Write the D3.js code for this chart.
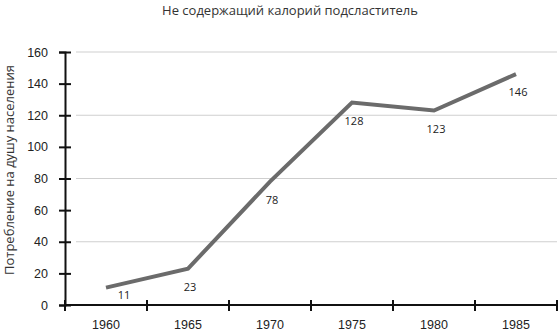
<!DOCTYPE html>
<html lang="ru">
<head>
<meta charset="UTF-8">
<title>Не содержащий калорий подсластитель</title>
<style>
  body { margin: 0; background: #fff; }
  svg { display: block; font-family: "Open Sans", sans-serif; }
</style>
</head>
<body>
<div id="chart"></div>
<script src="https://d3js.org/d3.v7.min.js"></script>
<script>
// data
const years = ["1960", "1965", "1970", "1975", "1980", "1985"];
const values = [11, 23, 78, 128, 123, 146];
const yTicks = [0, 20, 40, 60, 80, 100, 120, 140, 160];
const gridTicks = [40, 80, 120, 160];

const W = 558, H = 333;
const margin = { top: 52, right: 1, bottom: 28, left: 65 };
const width = W - margin.left - margin.right,
      height = H - margin.top - margin.bottom;

const svg = d3.select("#chart").append("svg")
    .attr("width", W).attr("height", H);

// title
svg.append("text")
    .attr("x", 290).attr("y", 15)
    .attr("text-anchor", "middle")
    .style("font-size", "13px").style("fill", "#333")
    .text("Не содержащий калорий подсластитель");

// y label
svg.append("text")
    .attr("transform", "translate(14,170) rotate(-90)")
    .attr("text-anchor", "middle")
    .style("font-size", "13px").style("fill", "#333")
    .text("Потребление на душу населения");

const g = svg.append("g").attr("transform", `translate(${margin.left},${margin.top})`);

const x = d3.scaleBand().domain(years).range([0, width]);
const y = d3.scaleLinear().domain([0, 160]).range([height, 0]);

// grid
g.append("g")
    .selectAll("line")
    .data(gridTicks)
    .join("line")
    .attr("x1", 11).attr("x2", width)
    .attr("y1", d => y(d)).attr("y2", d => y(d))
    .attr("stroke", "#cfcfcf").attr("stroke-width", 1);

// y axis
const yAxis = g.append("g")
    .call(d3.axisLeft(y).tickValues(yTicks).tickSize(6).tickPadding(11));
yAxis.select(".domain").attr("stroke", "#111").attr("stroke-width", 2);
yAxis.selectAll(".tick line").attr("x2", 6).attr("x1", -6).attr("stroke", "#111").attr("stroke-width", 2);
yAxis.selectAll(".tick text").style("font-size", "12.5px").style("fill", "#222")
    .attr("x", -17);

// x axis
const xAxis = g.append("g")
    .attr("transform", `translate(0,${height})`)
    .call(d3.axisBottom(x).tickSize(0).tickPadding(15));
xAxis.select(".domain").attr("stroke", "#111").attr("stroke-width", 2)
    .attr("d", `M0,0H${width}`);
xAxis.selectAll(".tick text").style("font-size", "12.5px").style("fill", "#222");
// band boundary ticks
xAxis.append("g")
    .selectAll("line")
    .data(years.concat(["end"]))
    .join("line")
    .attr("x1", (d, i) => i < years.length ? x(d) : width)
    .attr("x2", (d, i) => i < years.length ? x(d) : width)
    .attr("y1", -5).attr("y2", 6)
    .attr("stroke", "#111").attr("stroke-width", 2);

// line
const pts = years.map((yr, i) => ({ year: yr, value: values[i] }));
const cx = d => x(d.year) + x.bandwidth() / 2;

g.append("path")
    .datum(pts)
    .attr("fill", "none")
    .attr("stroke", "#6b6b6b")
    .attr("stroke-width", 4)
    .attr("stroke-linejoin", "miter")
    .attr("d", d3.line().x(cx).y(d => y(d.value)));

// value labels below points; nudge right if too close to the x axis
g.append("g")
    .selectAll("text")
    .data(pts)
    .join("text")
    .attr("x", d => y(d.value) + 22 > height - 4 ? cx(d) + 18 : cx(d) + 2)
    .attr("y", d => Math.min(y(d.value) + 22, height - 6))
    .attr("text-anchor", "middle")
    .style("font-size", "11px").style("fill", "#222")
    .text(d => d.value);
</script>
</body>
</html>
